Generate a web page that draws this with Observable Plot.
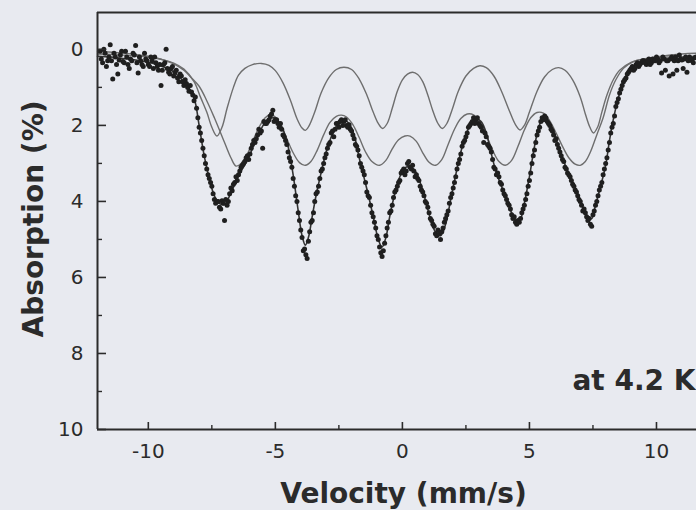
<!DOCTYPE html>
<html>
<head>
<meta charset="utf-8">
<script src="https://cdn.jsdelivr.net/npm/d3@7"></script>
<script src="https://cdn.jsdelivr.net/npm/@observablehq/plot@0.6"></script>
<style>
  html, body { margin: 0; padding: 0; background: #e8eaf0; }
  #chart { width: 696px; height: 510px; overflow: hidden; }
</style>
</head>
<body>
<div id="chart"></div>
<script>
// ---- axis settings ----
const xDomain = [-12, 11.575];
const yDomain = [10, -0.97];
const xTickValues = [-10, -5, 0, 5, 10];
const xTickLabels = ["-10", "-5", "0", "5", "10"];
const xMinorTicks = [-7.5, -2.5, 2.5, 7.5];
const yTickValues = [0, 2, 4, 6, 8, 10];
const yTickLabels = ["0", "2", "4", "6", "8", "10"];
const yMinorTicks = [1, 3, 5, 7, 9];
const xTitle = "Velocity (mm/s)";
const yTitle = "Absorption (%)";
const note = "at 4.2 K";

// ---- sharp sextet (upper thin curve) ----
const sextetAVel = [-12.0,-11.0,-10.0,-9.5,-9.0,-8.6,-8.2,-7.95,-7.7,-7.5,-7.3,-7.1,-6.9,-6.65,-6.45,-6.2,-5.9,-5.55,-5.25,-5.0,-4.7,-4.4,-4.15,-3.95,-3.82,-3.68,-3.45,-3.2,-2.9,-2.6,-2.3,-2.0,-1.7,-1.4,-1.15,-0.95,-0.78,-0.6,-0.4,-0.2,0.0,0.2,0.4,0.6,0.8,1.0,1.2,1.4,1.57,1.75,1.95,2.2,2.5,2.8,3.05,3.3,3.6,3.9,4.2,4.45,4.63,4.8,5.0,5.3,5.6,5.9,6.15,6.4,6.7,7.0,7.2,7.38,7.52,7.68,7.85,8.05,8.3,8.55,9.0,9.5,10.0,11.0,11.575];
const sextetAAbs = [0.12,0.15,0.2,0.26,0.36,0.52,0.85,1.25,1.65,2.05,2.28,2.05,1.55,1.0,0.68,0.5,0.4,0.37,0.42,0.56,0.88,1.35,1.82,2.07,2.13,2.02,1.65,1.15,0.75,0.53,0.47,0.53,0.78,1.2,1.65,1.95,2.08,1.95,1.55,1.1,0.8,0.65,0.6,0.66,0.85,1.2,1.62,1.95,2.08,1.95,1.6,1.1,0.7,0.5,0.43,0.48,0.7,1.1,1.6,1.98,2.12,2.0,1.65,1.1,0.72,0.53,0.48,0.55,0.8,1.25,1.7,2.05,2.2,2.05,1.65,1.2,0.8,0.55,0.34,0.26,0.22,0.19,0.18];

// ---- broad sextet (middle thin curve) ----
const sextetBVel = [-12.0,-11.0,-10.0,-9.5,-9.0,-8.6,-8.3,-8.0,-7.7,-7.4,-7.0,-6.75,-6.55,-6.35,-6.1,-5.85,-5.6,-5.4,-5.2,-5.0,-4.8,-4.55,-4.3,-4.05,-3.82,-3.6,-3.35,-3.1,-2.85,-2.6,-2.4,-2.2,-1.95,-1.7,-1.45,-1.2,-0.9,-0.65,-0.4,-0.15,0.1,0.3,0.55,0.8,1.05,1.3,1.55,1.8,2.05,2.3,2.55,2.8,3.05,3.3,3.55,3.8,4.05,4.3,4.55,4.8,5.05,5.3,5.55,5.8,6.05,6.3,6.55,6.8,7.0,7.2,7.4,7.65,7.9,8.15,8.4,8.7,9.1,10.0,11.0,11.575];
const sextetBAbs = [0.05,0.1,0.18,0.26,0.38,0.55,0.75,0.97,1.35,1.8,2.45,2.85,3.07,3.0,2.75,2.35,2.0,1.8,1.72,1.78,1.98,2.35,2.72,2.98,3.05,2.95,2.65,2.25,1.92,1.76,1.73,1.78,1.98,2.32,2.7,2.95,3.05,2.92,2.62,2.38,2.28,2.28,2.42,2.72,2.97,3.05,2.9,2.5,2.1,1.82,1.7,1.72,1.9,2.25,2.65,2.95,3.05,2.92,2.55,2.12,1.8,1.66,1.68,1.88,2.2,2.55,2.85,3.02,3.05,2.95,2.7,2.25,1.8,1.2,0.8,0.5,0.32,0.2,0.12,0.1];

// ---- total fit (dark curve through the data) ----
const fitVel = [-12.0,-11.5,-11.0,-10.5,-10.0,-9.5,-9.0,-8.7,-8.5,-8.3,-8.15,-8.0,-7.8,-7.6,-7.4,-7.2,-7.0,-6.8,-6.6,-6.35,-6.05,-5.8,-5.6,-5.45,-5.2,-5.05,-4.9,-4.7,-4.5,-4.3,-4.1,-3.95,-3.82,-3.7,-3.55,-3.4,-3.2,-3.0,-2.8,-2.6,-2.4,-2.25,-2.1,-1.9,-1.7,-1.5,-1.3,-1.1,-0.95,-0.8,-0.65,-0.5,-0.3,-0.1,0.1,0.3,0.5,0.7,0.9,1.1,1.3,1.5,1.7,1.9,2.1,2.3,2.5,2.7,2.9,3.1,3.3,3.5,3.7,3.9,4.1,4.3,4.5,4.65,4.8,5.0,5.2,5.4,5.55,5.7,5.9,6.1,6.3,6.5,6.7,6.9,7.1,7.3,7.45,7.6,7.8,8.0,8.15,8.3,8.45,8.6,8.8,9.1,9.5,10.0,11.0,11.575];
const fitAbs = [0.18,0.2,0.24,0.28,0.34,0.44,0.6,0.78,0.93,1.12,1.4,2.0,2.8,3.4,3.85,4.05,4.08,3.85,3.55,3.2,2.85,2.42,2.15,1.97,1.82,1.8,1.87,2.1,2.55,3.3,4.25,4.9,5.15,4.95,4.4,3.85,3.25,2.7,2.3,2.02,1.9,1.88,1.95,2.25,2.85,3.4,3.95,4.55,5.0,5.2,4.95,4.4,3.8,3.35,3.12,3.08,3.2,3.5,3.95,4.45,4.8,4.9,4.6,3.95,3.3,2.7,2.25,1.95,1.83,1.9,2.2,2.75,3.25,3.6,3.95,4.3,4.5,4.45,4.05,3.35,2.55,1.98,1.82,1.85,2.05,2.45,2.85,3.2,3.5,3.8,4.15,4.4,4.45,4.1,3.6,3.05,2.4,1.85,1.4,1.05,0.72,0.45,0.33,0.28,0.24,0.23];

// ---- measured points, channels on the whole tenths ----
const dataVel = [
-11.9,-11.8,-11.7,-11.6,-11.5,-11.4,-11.3,-11.2,-11.1,-11.0,
-10.9,-10.8,-10.7,-10.6,-10.5,-10.4,-10.3,-10.2,-10.1,-10.0,
-9.9,-9.8,-9.7,-9.6,-9.5,-9.4,-9.3,-9.2,-9.1,-9.0,
-8.9,-8.8,-8.7,-8.6,-8.5,-8.4,-8.3,-8.2,-8.1,-8.0,
-7.9,-7.8,-7.7,-7.6,-7.5,-7.4,-7.3,-7.2,-7.1,-7.0,
-6.9,-6.8,-6.7,-6.6,-6.5,-6.4,-6.3,-6.2,-6.1,-6.0,
-5.9,-5.8,-5.7,-5.6,-5.5,-5.4,-5.3,-5.2,-5.1,-5.0,
-4.9,-4.8,-4.7,-4.6,-4.5,-4.4,-4.3,-4.2,-4.1,-4.0,
-3.9,-3.8,-3.7,-3.6,-3.5,-3.4,-3.3,-3.2,-3.1,-3.0,
-2.9,-2.8,-2.7,-2.6,-2.5,-2.4,-2.3,-2.2,-2.1,-2.0,
-1.9,-1.8,-1.7,-1.6,-1.5,-1.4,-1.3,-1.2,-1.1,-1.0,
-0.9,-0.8,-0.7,-0.6,-0.5,-0.4,-0.3,-0.2,-0.1,0.0,
0.1,0.2,0.3,0.4,0.5,0.6,0.7,0.8,0.9,1.0,
1.1,1.2,1.3,1.4,1.5,1.6,1.7,1.8,1.9,2.0,
2.1,2.2,2.3,2.4,2.5,2.6,2.7,2.8,2.9,3.0,
3.1,3.2,3.3,3.4,3.5,3.6,3.7,3.8,3.9,4.0,
4.1,4.2,4.3,4.4,4.5,4.6,4.7,4.8,4.9,5.0,
5.1,5.2,5.3,5.4,5.5,5.6,5.7,5.8,5.9,6.0,
6.1,6.2,6.3,6.4,6.5,6.6,6.7,6.8,6.9,7.0,
7.1,7.2,7.3,7.4,7.5,7.6,7.7,7.8,7.9,8.0,
8.1,8.2,8.3,8.4,8.5,8.6,8.7,8.8,8.9,9.0,
9.1,9.2,9.3,9.4,9.5,9.6,9.7,9.8,9.9,10.0,
10.1,10.2,10.3,10.4,10.5,10.6,10.7,10.8,10.9,11.0,
11.1,11.2,11.3,11.4,11.5
];
const dataAbs = [
0.05,0.35,0.1,0.3,-0.12,0.78,0.2,0.65,0.15,0.32,
0.05,0.4,0.25,0.1,-0.1,0.62,0.3,0.45,0.25,0.4,
0.2,0.5,0.35,0.55,0.95,0.4,0.0,0.6,0.5,0.7,
0.55,0.85,0.7,0.95,0.9,1.1,1.12,1.35,1.55,2.05,
2.4,2.8,3.15,3.4,3.6,3.95,4.0,4.15,3.98,4.5,
4.1,3.8,3.72,3.5,3.45,3.2,3.05,2.95,2.8,2.75,
2.5,2.45,2.25,2.2,2.6,1.95,1.9,1.75,1.6,1.85,
1.95,1.95,2.25,2.4,2.7,2.95,3.4,3.85,4.3,4.75,
5.3,5.4,5.05,4.55,4.3,3.8,3.6,3.2,3.0,2.75,
2.5,2.2,2.3,1.95,2.05,1.85,1.9,2.0,1.98,2.15,
2.35,2.55,2.8,3.1,3.3,3.75,3.9,4.3,4.55,4.9,
5.2,5.45,5.1,4.7,4.3,4.1,3.75,3.6,3.45,3.2,
3.3,3.0,3.1,3.05,3.35,3.4,3.6,3.75,4.0,4.15,
4.45,4.6,4.85,4.75,5.0,4.7,4.45,4.25,3.9,3.65,
3.35,3.0,2.75,2.45,2.3,2.05,1.95,1.8,1.85,1.95,
2.05,2.45,2.3,2.55,2.7,3.1,3.3,3.35,3.55,3.8,
3.95,4.1,4.35,4.4,4.6,4.55,4.3,4.1,3.8,3.45,
3.0,2.65,2.25,2.05,1.8,1.75,1.9,2.0,2.15,2.4,
2.5,2.7,2.9,3.1,3.25,3.35,3.55,3.7,3.85,4.0,
4.25,4.3,4.5,4.6,4.35,4.1,3.85,3.6,3.3,3.0,
2.65,2.2,1.95,1.5,1.3,1.05,0.85,0.75,0.6,0.5,
0.55,0.4,0.45,0.35,0.3,0.4,0.25,0.35,0.3,0.2,
0.35,0.62,0.25,0.3,0.7,0.2,0.3,0.55,0.15,0.28,
0.25,0.6,0.2,0.3,0.22
];

// ---- measured points, channels on the half tenths ----
const dataVelB = [
-11.85,-11.75,-11.65,-11.55,-11.45,-11.35,-11.25,-11.15,-11.05,-10.95,
-10.85,-10.75,-10.65,-10.55,-10.45,-10.35,-10.25,-10.15,-10.05,-9.95,
-9.85,-9.75,-9.65,-9.55,-9.45,-9.35,-9.25,-9.15,-9.05,-8.95,
-8.85,-8.75,-8.65,-8.55,-8.45,-8.35,-8.25,-8.15,-8.05,-7.95,
-7.85,-7.75,-7.65,-7.55,-7.45,-7.35,-7.25,-7.15,-7.05,-6.95,
-6.85,-6.75,-6.65,-6.55,-6.45,-6.35,-6.25,-6.15,-6.05,-5.95,
-5.85,-5.75,-5.65,-5.55,-5.45,-5.35,-5.25,-5.15,-5.05,-4.95,
-4.85,-4.75,-4.65,-4.55,-4.45,-4.35,-4.25,-4.15,-4.05,-3.95,
-3.85,-3.75,-3.65,-3.55,-3.45,-3.35,-3.25,-3.15,-3.05,-2.95,
-2.85,-2.75,-2.65,-2.55,-2.45,-2.35,-2.25,-2.15,-2.05,-1.95,
-1.85,-1.75,-1.65,-1.55,-1.45,-1.35,-1.25,-1.15,-1.05,-0.95,
-0.85,-0.75,-0.65,-0.55,-0.45,-0.35,-0.25,-0.15,-0.05,0.05,
0.15,0.25,0.35,0.45,0.55,0.65,0.75,0.85,0.95,1.05,
1.15,1.25,1.35,1.45,1.55,1.65,1.75,1.85,1.95,2.05,
2.15,2.25,2.35,2.45,2.55,2.65,2.75,2.85,2.95,3.05,
3.15,3.25,3.35,3.45,3.55,3.65,3.75,3.85,3.95,4.05,
4.15,4.25,4.35,4.45,4.55,4.65,4.75,4.85,4.95,5.05,
5.15,5.25,5.35,5.45,5.55,5.65,5.75,5.85,5.95,6.05,
6.15,6.25,6.35,6.45,6.55,6.65,6.75,6.85,6.95,7.05,
7.15,7.25,7.35,7.45,7.55,7.65,7.75,7.85,7.95,8.05,
8.15,8.25,8.35,8.45,8.55,8.65,8.75,8.85,8.95,9.05,
9.15,9.25,9.35,9.45,9.55,9.65,9.75,9.85,9.95,10.05,
10.15,10.25,10.35,10.45,10.55,10.65,10.75,10.85,10.95,11.05,
11.15,11.25,11.35,11.45,11.55
];
const dataAbsB = [
0.25,0.0,0.45,0.2,0.3,0.1,0.4,0.28,0.05,0.35,
0.2,0.5,0.3,0.15,0.35,0.2,0.4,0.1,0.3,0.45,
0.3,0.2,0.45,0.4,0.55,0.35,0.5,0.65,0.45,0.6,
0.75,0.65,0.85,0.8,1.0,0.95,1.2,1.25,1.8,2.2,
2.6,3.0,3.3,3.5,3.8,4.05,4.0,4.2,4.05,3.95,
4.0,3.65,3.55,3.35,3.3,3.1,3.0,2.85,2.9,2.6,
2.4,2.35,2.1,2.15,1.9,1.95,1.85,1.7,1.9,1.85,
2.05,2.1,2.3,2.5,2.85,3.1,3.6,4.0,4.5,4.95,
5.25,5.5,4.8,4.5,4.0,3.75,3.4,3.15,2.85,2.6,
2.45,2.15,2.1,1.95,1.9,2.0,1.85,2.05,2.1,2.25,
2.5,2.65,3.0,3.2,3.5,3.85,4.1,4.4,4.7,5.0,
5.35,5.3,4.9,4.55,4.25,3.9,3.7,3.5,3.25,3.15,
3.2,2.95,3.15,3.2,3.3,3.45,3.7,3.85,4.05,4.3,
4.5,4.65,4.9,4.85,4.8,4.55,4.35,4.05,3.8,3.5,
3.15,2.9,2.55,2.4,2.2,2.0,1.9,1.95,1.8,2.0,
2.15,2.2,2.5,2.6,2.9,3.15,3.25,3.5,3.7,3.85,
4.05,4.2,4.45,4.55,4.5,4.45,4.2,3.95,3.6,3.25,
2.8,2.45,2.15,1.9,1.85,1.8,1.95,2.1,2.25,2.35,
2.6,2.8,2.95,3.15,3.3,3.45,3.6,3.75,3.95,4.1,
4.2,4.4,4.45,4.65,4.25,4.0,3.7,3.5,3.15,2.85,
2.45,2.05,1.75,1.4,1.15,0.95,0.8,0.65,0.55,0.45,
0.5,0.35,0.4,0.3,0.35,0.3,0.4,0.25,0.3,0.25,
0.3,0.2,0.55,0.3,0.25,0.65,0.2,0.3,0.25,0.5,
0.2,0.3,0.25,0.35,0.2
];

// ---- build tables for the library ----
const rows = (xs, ys) => xs.map((v, i) => ({v, a: ys[i]}));
const sextetA = rows(sextetAVel, sextetAAbs);
const sextetB = rows(sextetBVel, sextetBAbs);
const fit = rows(fitVel, fitAbs);
const points = rows(dataVel, dataAbs).concat(rows(dataVelB, dataAbsB));

const W = 696, H = 510, mT = 12, mB = 81, mL = 97, mR = 0;
const frameW = W - mL - mR, frameH = H - mT - mB;
const ink = "#2b2b2b";

const chart = Plot.plot({
  width: W, height: H,
  marginTop: mT, marginBottom: mB, marginLeft: mL, marginRight: mR,
  style: {background: "transparent", fontFamily: "DejaVu Sans", color: ink, overflow: "hidden"},
  x: {domain: xDomain},
  y: {domain: yDomain},
  marks: [
    Plot.line(sextetA, {x: "v", y: "a", curve: "catmull-rom", stroke: "#6e6e6e", strokeWidth: 1.4}),
    Plot.line(sextetB, {x: "v", y: "a", curve: "catmull-rom", stroke: "#6e6e6e", strokeWidth: 1.4}),
    Plot.line(fit, {x: "v", y: "a", curve: "catmull-rom", stroke: "#333", strokeWidth: 1.6}),
    Plot.dot(points, {x: "v", y: "a", r: 2.5, fill: "#1f1f1f", stroke: "none"}),
    // frame lines
    Plot.ruleY([yDomain[0]], {stroke: ink, strokeWidth: 2}),
    Plot.ruleY([yDomain[1]], {stroke: ink, strokeWidth: 2}),
    Plot.ruleX([xDomain[0]], {stroke: ink, strokeWidth: 2}),
    // inward ticks
    Plot.ruleX(xTickValues, {stroke: ink, strokeWidth: 1.6, insetTop: frameH - 7}),
    Plot.ruleX(xMinorTicks, {stroke: ink, strokeWidth: 1.4, insetTop: frameH - 4}),
    Plot.ruleY(yTickValues, {stroke: ink, strokeWidth: 1.6, insetRight: frameW - 9}),
    Plot.ruleY(yMinorTicks, {stroke: ink, strokeWidth: 1.4, insetRight: frameW - 5}),
    // tick labels
    Plot.axisX({ticks: xTickValues, tickSize: 0, tickPadding: 14, fontSize: 20, label: null,
      tickFormat: d => xTickLabels[xTickValues.indexOf(d)]}),
    Plot.axisY({ticks: yTickValues, tickSize: 0, tickPadding: 14, fontSize: 20, label: null,
      tickFormat: d => yTickLabels[yTickValues.indexOf(d)]}),
    // titles
    Plot.text([xTitle], {frameAnchor: "bottom", dx: 6.5, dy: 65, fontSize: 28, fontWeight: "bold", fill: ink, textAnchor: "middle", lineAnchor: "middle"}),
    Plot.text([yTitle], {frameAnchor: "left", dx: -63, dy: -2, rotate: -90, fontSize: 28, fontWeight: "bold", fill: ink, textAnchor: "middle", lineAnchor: "middle"}),
    Plot.text([note], {frameAnchor: "bottom-right", dx: -1, dy: -48, textAnchor: "end", fontSize: 28, fontWeight: "bold", fill: ink, lineAnchor: "middle"})
  ]
});
document.getElementById("chart").appendChild(chart);
</script>
</body>
</html>
